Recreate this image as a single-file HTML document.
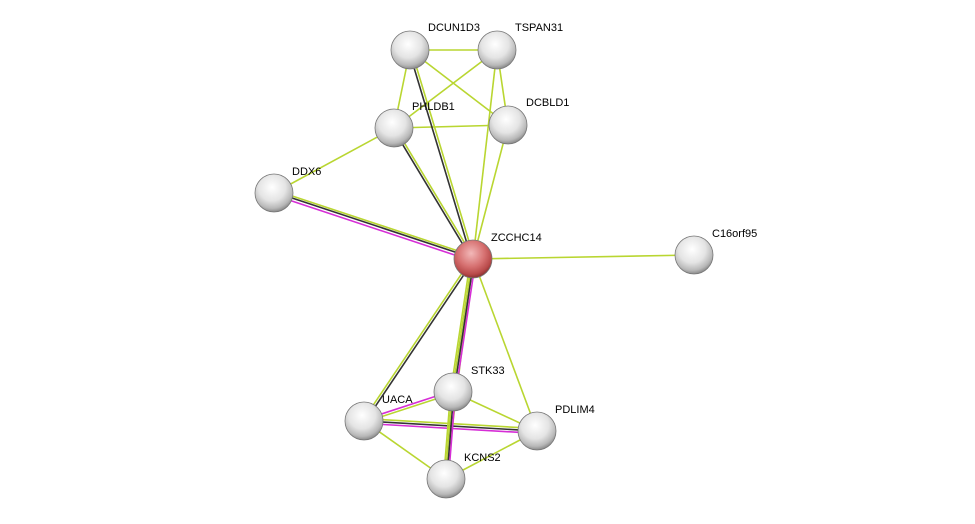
<!DOCTYPE html>
<html><head><meta charset="utf-8"><style>
html,body{margin:0;padding:0;background:#fff;}
svg{display:block;}
text{font-family:"Liberation Sans",Arial,sans-serif;font-size:11px;fill:#000;}
</style></head><body>
<svg width="975" height="524" viewBox="0 0 975 524" xmlns="http://www.w3.org/2000/svg">
<defs>
<radialGradient id="g" cx="45%" cy="35%" r="65%">
<stop offset="0" stop-color="#ffffff"/><stop offset="0.55" stop-color="#e4e4e4"/><stop offset="0.85" stop-color="#b8b8b8"/><stop offset="1" stop-color="#8a8a8a"/>
</radialGradient>
<radialGradient id="r" cx="45%" cy="35%" r="65%">
<stop offset="0" stop-color="#f2b8b8"/><stop offset="0.55" stop-color="#d67070"/><stop offset="0.85" stop-color="#b84a4a"/><stop offset="1" stop-color="#8a3030"/>
</radialGradient>
</defs>
<g stroke-width="1.6" fill="none">
<!-- top cluster yellow -->
<g stroke="#b9d631">
<line x1="410" y1="50" x2="497" y2="50"/>
<line x1="410" y1="50" x2="394" y2="128"/>
<line x1="410" y1="50" x2="508" y2="125"/>
<line x1="497" y1="50" x2="394" y2="128"/>
<line x1="497" y1="50" x2="508" y2="125"/>
<line x1="394" y1="128" x2="508" y2="125"/>
<line x1="394" y1="128" x2="274" y2="193"/>
<line x1="473" y1="259" x2="497" y2="50"/>
<line x1="473" y1="259" x2="508" y2="125"/>
<line x1="473" y1="259" x2="694" y2="255"/>
<line x1="473" y1="259" x2="537" y2="431"/>
<line x1="473" y1="259" x2="446" y2="479"/>
<line x1="364" y1="421" x2="446" y2="479"/>
<line x1="453" y1="392" x2="537" y2="431"/>
<line x1="446" y1="479" x2="537" y2="431"/>
</g>
<!-- ZCCHC14-DDX6 -->
<line x1="473.9" y1="256.2" x2="274.9" y2="190.2" stroke="#b9d631"/>
<line x1="473.3" y1="258.1" x2="274.3" y2="192.1" stroke="#333"/>
<line x1="472.4" y1="260.9" x2="273.4" y2="194.9" stroke="#d62ed6"/>
<!-- Z-PHLDB1 -->
<line x1="474" y1="258.4" x2="395" y2="127.4" stroke="#b9d631"/>
<line x1="472" y1="259.6" x2="393" y2="128.6" stroke="#333"/>
<!-- Z-DCUN1D3 -->
<line x1="474.2" y1="258.6" x2="411.2" y2="49.6" stroke="#b9d631"/>
<line x1="471.8" y1="259.4" x2="408.8" y2="50.4" stroke="#333"/>
<!-- Z-UACA -->
<line x1="472" y1="258.3" x2="363" y2="420.3" stroke="#b9d631"/>
<line x1="474" y1="259.7" x2="365" y2="421.7" stroke="#333"/>
<!-- Z-STK33 -->
<line x1="470.6" y1="259" x2="450.6" y2="392" stroke="#b9d631"/>
<line x1="472.3" y1="259" x2="452.3" y2="392" stroke="#b9d631"/>
<line x1="474" y1="259" x2="454" y2="392" stroke="#333"/>
<line x1="475.8" y1="259" x2="455.8" y2="392" stroke="#d62ed6"/>
<!-- UACA-STK33 -->
<line x1="363.6" y1="419.8" x2="452.6" y2="390.8" stroke="#d62ed6"/>
<line x1="364.4" y1="422.2" x2="453.4" y2="393.2" stroke="#b9d631"/>
<!-- UACA-PDLIM4 -->
<line x1="364" y1="418.6" x2="537" y2="428.6" stroke="#b9d631"/>
<line x1="364" y1="421" x2="537" y2="431" stroke="#333"/>
<line x1="364" y1="423.4" x2="537" y2="433.4" stroke="#d62ed6"/>
<!-- STK33-KCNS2 -->
<line x1="450.6" y1="392" x2="443.6" y2="479" stroke="#b9d631"/>
<line x1="452.2" y1="392" x2="445.2" y2="479" stroke="#b9d631"/>
<line x1="453.8" y1="392" x2="446.8" y2="479" stroke="#333"/>
<line x1="455.4" y1="392" x2="448.4" y2="479" stroke="#d62ed6"/>
</g>
<g stroke="#777" stroke-width="0.8">
<circle cx="410" cy="50" r="19" fill="url(#g)"/>
<circle cx="497" cy="50" r="19" fill="url(#g)"/>
<circle cx="394" cy="128" r="19" fill="url(#g)"/>
<circle cx="508" cy="125" r="19" fill="url(#g)"/>
<circle cx="274" cy="193" r="19" fill="url(#g)"/>
<circle cx="473" cy="259" r="19" fill="url(#r)"/>
<circle cx="694" cy="255" r="19" fill="url(#g)"/>
<circle cx="453" cy="392" r="19" fill="url(#g)"/>
<circle cx="364" cy="421" r="19" fill="url(#g)"/>
<circle cx="537" cy="431" r="19" fill="url(#g)"/>
<circle cx="446" cy="479" r="19" fill="url(#g)"/>
</g>
<text x="428" y="31">DCUN1D3</text>
<text x="515" y="31">TSPAN31</text>
<text x="412" y="110">PHLDB1</text>
<text x="526" y="106">DCBLD1</text>
<text x="292" y="175">DDX6</text>
<text x="491" y="241">ZCCHC14</text>
<text x="712" y="237">C16orf95</text>
<text x="471" y="374">STK33</text>
<text x="382" y="403">UACA</text>
<text x="555" y="413">PDLIM4</text>
<text x="464" y="461">KCNS2</text>
</svg>
</body></html>
